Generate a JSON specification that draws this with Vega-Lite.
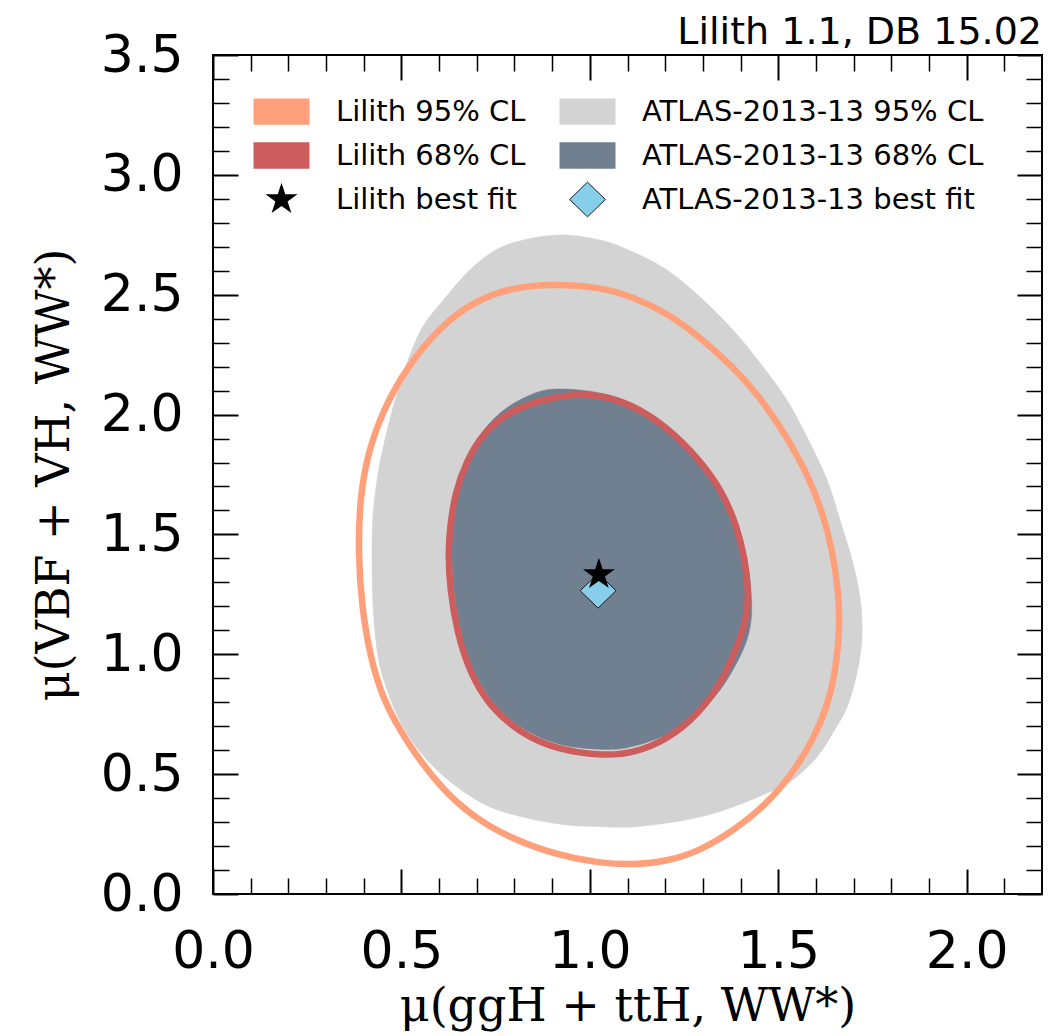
{
  "$schema": "https://vega.github.io/schema/vega-lite/v6.json",
  "autosize": {"type": "none"},
  "width": 829,
  "height": 839,
  "padding": {"left": 213, "top": 55, "right": 11, "bottom": 142},
  "background": "white",
  "title": {"text": "Lilith 1.1, DB 15.02", "anchor": "end", "frame": "group", "font": "DejaVu Sans", "fontSize": 38, "fontWeight": "normal", "baseline": "alphabetic", "offset": -53, "color": "black"},
  "config": {
    "view": {"stroke": "black", "strokeWidth": 2},
    "axis": {"grid": false, "domain": false, "tickColor": "black", "labelColor": "black", "titleColor": "black", "labelFlush": false, "labelOverlap": false}
  },
  "datasets": {
    "gray": [
      {"i":1,"x":0.913,"y":2.749},{"i":2,"x":1.027,"y":2.728},{"i":3,"x":1.115,"y":2.678},{"i":4,"x":1.205,"y":2.603},
      {"i":5,"x":1.292,"y":2.491},{"i":6,"x":1.380,"y":2.353},{"i":7,"x":1.452,"y":2.215},{"i":8,"x":1.523,"y":2.061},
      {"i":9,"x":1.576,"y":1.907},{"i":10,"x":1.630,"y":1.727},{"i":11,"x":1.664,"y":1.560},{"i":12,"x":1.691,"y":1.423},
      {"i":13,"x":1.709,"y":1.310},{"i":14,"x":1.720,"y":1.197},{"i":15,"x":1.722,"y":1.060},{"i":16,"x":1.709,"y":0.922},
      {"i":17,"x":1.683,"y":0.780},{"i":18,"x":1.645,"y":0.672},{"i":19,"x":1.603,"y":0.572},{"i":20,"x":1.539,"y":0.476},
      {"i":21,"x":1.470,"y":0.421},{"i":22,"x":1.380,"y":0.363},{"i":23,"x":1.292,"y":0.321},{"i":24,"x":1.205,"y":0.296},
      {"i":25,"x":1.115,"y":0.280},{"i":26,"x":1.046,"y":0.280},{"i":27,"x":0.939,"y":0.288},{"i":28,"x":0.833,"y":0.317},
      {"i":29,"x":0.735,"y":0.363},{"i":30,"x":0.648,"y":0.446},{"i":31,"x":0.568,"y":0.559},{"i":32,"x":0.504,"y":0.697},
      {"i":33,"x":0.462,"y":0.851},{"i":34,"x":0.438,"y":0.989},{"i":35,"x":0.425,"y":1.197},{"i":36,"x":0.422,"y":1.423},
      {"i":37,"x":0.425,"y":1.589},{"i":38,"x":0.438,"y":1.756},{"i":39,"x":0.456,"y":1.894},{"i":40,"x":0.478,"y":2.032},
      {"i":41,"x":0.502,"y":2.157},{"i":42,"x":0.531,"y":2.282},{"i":43,"x":0.560,"y":2.375},{"i":44,"x":0.608,"y":2.472},
      {"i":45,"x":0.690,"y":2.616},{"i":46,"x":0.780,"y":2.708}
    ],
    "slate": [
      {"i":1,"x":0.921,"y":2.107},{"i":2,"x":1.027,"y":2.090},{"i":3,"x":1.115,"y":2.044},{"i":4,"x":1.205,"y":1.952},
      {"i":5,"x":1.292,"y":1.815},{"i":6,"x":1.354,"y":1.673},{"i":7,"x":1.393,"y":1.531},{"i":8,"x":1.417,"y":1.393},
      {"i":9,"x":1.428,"y":1.260},{"i":10,"x":1.428,"y":1.143},{"i":11,"x":1.412,"y":1.039},{"i":12,"x":1.372,"y":0.914},
      {"i":13,"x":1.324,"y":0.809},{"i":14,"x":1.266,"y":0.726},{"i":15,"x":1.200,"y":0.662},{"i":16,"x":1.115,"y":0.616},
      {"i":17,"x":1.040,"y":0.603},{"i":18,"x":0.921,"y":0.624},{"i":19,"x":0.823,"y":0.690},{"i":20,"x":0.746,"y":0.795},
      {"i":21,"x":0.693,"y":0.930},{"i":22,"x":0.658,"y":1.093},{"i":23,"x":0.640,"y":1.268},{"i":24,"x":0.634,"y":1.423},
      {"i":25,"x":0.637,"y":1.531},{"i":26,"x":0.648,"y":1.673},{"i":27,"x":0.677,"y":1.819},{"i":28,"x":0.719,"y":1.936},
      {"i":29,"x":0.780,"y":2.028},{"i":30,"x":0.855,"y":2.090}
    ],
    "orange": [
      {"i":1,"x":0.902,"y":2.545},{"i":2,"x":1.027,"y":2.532},{"i":3,"x":1.115,"y":2.491},{"i":4,"x":1.205,"y":2.424},
      {"i":5,"x":1.292,"y":2.324},{"i":6,"x":1.380,"y":2.199},{"i":7,"x":1.452,"y":2.073},{"i":8,"x":1.523,"y":1.907},
      {"i":9,"x":1.576,"y":1.756},{"i":10,"x":1.619,"y":1.589},{"i":11,"x":1.645,"y":1.423},{"i":12,"x":1.659,"y":1.268},
      {"i":13,"x":1.663,"y":1.143},{"i":14,"x":1.659,"y":1.039},{"i":15,"x":1.651,"y":0.922},{"i":16,"x":1.630,"y":0.780},
      {"i":17,"x":1.592,"y":0.642},{"i":18,"x":1.539,"y":0.505},{"i":19,"x":1.470,"y":0.375},{"i":20,"x":1.380,"y":0.262},
      {"i":21,"x":1.292,"y":0.180},{"i":22,"x":1.205,"y":0.136},{"i":23,"x":1.115,"y":0.121},{"i":24,"x":1.020,"y":0.130},
      {"i":25,"x":0.913,"y":0.163},{"i":26,"x":0.796,"y":0.228},{"i":27,"x":0.690,"y":0.321},{"i":28,"x":0.602,"y":0.446},
      {"i":29,"x":0.515,"y":0.630},{"i":30,"x":0.451,"y":0.809},{"i":31,"x":0.417,"y":0.989},{"i":32,"x":0.395,"y":1.197},
      {"i":33,"x":0.385,"y":1.423},{"i":34,"x":0.390,"y":1.656},{"i":35,"x":0.411,"y":1.840},{"i":36,"x":0.451,"y":2.019},
      {"i":37,"x":0.515,"y":2.199},{"i":38,"x":0.602,"y":2.365},{"i":39,"x":0.690,"y":2.470},{"i":40,"x":0.790,"y":2.530}
    ],
    "red": [
      {"i":1,"x":0.955,"y":2.086},{"i":2,"x":1.027,"y":2.082},{"i":3,"x":1.115,"y":2.040},{"i":4,"x":1.205,"y":1.948},
      {"i":5,"x":1.292,"y":1.811},{"i":6,"x":1.354,"y":1.673},{"i":7,"x":1.391,"y":1.531},{"i":8,"x":1.412,"y":1.393},
      {"i":9,"x":1.421,"y":1.268},{"i":10,"x":1.418,"y":1.170},{"i":11,"x":1.399,"y":1.060},{"i":12,"x":1.354,"y":0.893},
      {"i":13,"x":1.292,"y":0.755},{"i":14,"x":1.205,"y":0.642},{"i":15,"x":1.115,"y":0.588},{"i":16,"x":1.040,"y":0.576},
      {"i":17,"x":0.913,"y":0.601},{"i":18,"x":0.815,"y":0.672},{"i":19,"x":0.735,"y":0.780},{"i":20,"x":0.682,"y":0.922},
      {"i":21,"x":0.648,"y":1.089},{"i":22,"x":0.629,"y":1.268},{"i":23,"x":0.624,"y":1.423},{"i":24,"x":0.629,"y":1.531},
      {"i":25,"x":0.642,"y":1.673},{"i":26,"x":0.674,"y":1.811},{"i":27,"x":0.717,"y":1.923},{"i":28,"x":0.780,"y":2.007},
      {"i":29,"x":0.868,"y":2.061}
    ],
    "points": [
      {"series":"ATLAS-2013-13 best fit","x":1.022,"y":1.265},
      {"series":"Lilith best fit","x":1.024,"y":1.333}
    ]
  },
  "resolve": {"axis": {"x": "independent", "y": "independent"}},
  "layer": [
    {
      "data": {"name": "gray"},
      "mark": {"type": "line", "interpolate": "cardinal-closed", "fill": "#D3D3D3", "stroke": "#D3D3D3", "strokeWidth": 0.5},
      "encoding": {
        "order": {"field": "i", "type": "quantitative"},
        "x": {"field": "x", "type": "quantitative", "scale": {"domain": [0, 2.2], "nice": false, "zero": false},
          "axis": {"orient": "bottom", "values": [0, 0.5, 1, 1.5, 2], "format": ".1f", "tickSize": -25, "tickWidth": 2,
            "labelFont": "DejaVu Sans", "labelFontSize": 52, "labelPadding": 57,
            "title": "μ(ggH + ttH, WW*)", "titleFont": "DejaVu Serif", "titleFontSize": 46, "titleFontWeight": "normal",
            "titleBaseline": "alphabetic", "titleX": 414.5, "titleY": 126}},
        "y": {"field": "y", "type": "quantitative", "scale": {"domain": [0, 3.5], "nice": false, "zero": false},
          "axis": {"orient": "left", "values": [0, 0.5, 1, 1.5, 2, 2.5, 3, 3.5], "format": ".1f", "tickSize": -25, "tickWidth": 2,
            "labelFont": "DejaVu Sans", "labelFontSize": 52, "labelPadding": 55,
            "title": "μ(VBF + VH, WW*)", "titleFont": "DejaVu Serif", "titleFontSize": 46, "titleFontWeight": "normal",
            "titleBaseline": "alphabetic", "titleAngle": -90, "titleX": -145, "titleY": 419.5}}
      }
    },
    {
      "data": {"name": "slate"},
      "mark": {"type": "line", "interpolate": "cardinal-closed", "fill": "#708090", "stroke": "#708090", "strokeWidth": 0.5},
      "encoding": {
        "order": {"field": "i", "type": "quantitative"},
        "x": {"field": "x", "type": "quantitative", "scale": {"domain": [0, 2.2], "nice": false, "zero": false},
          "axis": {"orient": "bottom", "values": [0.1,0.2,0.3,0.4,0.6,0.7,0.8,0.9,1.1,1.2,1.3,1.4,1.6,1.7,1.8,1.9,2.1], "tickSize": -16, "tickWidth": 1.5, "labels": false, "title": null}},
        "y": {"field": "y", "type": "quantitative", "scale": {"domain": [0, 3.5], "nice": false, "zero": false},
          "axis": {"orient": "left", "values": [0.1,0.2,0.3,0.4,0.6,0.7,0.8,0.9,1.1,1.2,1.3,1.4,1.6,1.7,1.8,1.9,2.1,2.2,2.3,2.4,2.6,2.7,2.8,2.9,3.1,3.2,3.3,3.4], "tickSize": -16, "tickWidth": 1.5, "labels": false, "title": null}}
      }
    },
    {
      "data": {"name": "orange"},
      "mark": {"type": "line", "interpolate": "basis-closed", "stroke": "#FFA07A", "strokeWidth": 6.5, "strokeJoin": "round"},
      "encoding": {
        "order": {"field": "i", "type": "quantitative"},
        "x": {"field": "x", "type": "quantitative", "scale": {"domain": [0, 2.2], "nice": false, "zero": false},
          "axis": {"orient": "top", "values": [0, 0.5, 1, 1.5, 2], "tickSize": -25, "tickWidth": 2, "labels": false, "title": null}},
        "y": {"field": "y", "type": "quantitative", "scale": {"domain": [0, 3.5], "nice": false, "zero": false},
          "axis": {"orient": "right", "values": [0, 0.5, 1, 1.5, 2, 2.5, 3, 3.5], "tickSize": -25, "tickWidth": 2, "labels": false, "title": null}}
      }
    },
    {
      "data": {"name": "red"},
      "mark": {"type": "line", "interpolate": "basis-closed", "stroke": "#CD5C5C", "strokeWidth": 6.5, "strokeJoin": "round"},
      "encoding": {
        "order": {"field": "i", "type": "quantitative"},
        "x": {"field": "x", "type": "quantitative", "scale": {"domain": [0, 2.2], "nice": false, "zero": false},
          "axis": {"orient": "top", "values": [0.1,0.2,0.3,0.4,0.6,0.7,0.8,0.9,1.1,1.2,1.3,1.4,1.6,1.7,1.8,1.9,2.1], "tickSize": -16, "tickWidth": 1.5, "labels": false, "title": null}},
        "y": {"field": "y", "type": "quantitative", "scale": {"domain": [0, 3.5], "nice": false, "zero": false},
          "axis": {"orient": "right", "values": [0.1,0.2,0.3,0.4,0.6,0.7,0.8,0.9,1.1,1.2,1.3,1.4,1.6,1.7,1.8,1.9,2.1,2.2,2.3,2.4,2.6,2.7,2.8,2.9,3.1,3.2,3.3,3.4], "tickSize": -16, "tickWidth": 1.5, "labels": false, "title": null}}
      }
    },
    {
      "data": {"name": "points"},
      "mark": {"type": "point", "filled": true, "size": 3136, "opacity": 1, "strokeWidth": 1},
      "encoding": {
        "x": {"field": "x", "type": "quantitative", "scale": {"domain": [0, 2.2], "nice": false, "zero": false}, "axis": null},
        "y": {"field": "y", "type": "quantitative", "scale": {"domain": [0, 3.5], "nice": false, "zero": false}, "axis": null},
        "fill": {"field": "series", "type": "nominal",
          "scale": {"domain": ["Lilith 95% CL", "Lilith 68% CL", "Lilith best fit", "ATLAS-2013-13 95% CL", "ATLAS-2013-13 68% CL", "ATLAS-2013-13 best fit"],
                    "range": ["#FFA07A", "#CD5C5C", "#000000", "#D3D3D3", "#708090", "#87CEEB"]},
          "legend": {"orient": "none", "legendX": 40, "legendY": 28, "columns": 2, "title": null, "padding": 0,
            "labelFont": "DejaVu Sans", "labelFontSize": 29, "labelColor": "black", "labelOffset": 26, "labelLimit": 0,
            "symbolSize": 3136, "symbolStrokeWidth": 1, "rowPadding": -1, "columnPadding": 31}},
        "shape": {"field": "series", "type": "nominal",
          "scale": {"domain": ["Lilith 95% CL", "Lilith 68% CL", "Lilith best fit", "ATLAS-2013-13 95% CL", "ATLAS-2013-13 68% CL", "ATLAS-2013-13 best fit"],
                    "range": ["M-1,-0.47H1V0.47H-1Z", "M-1,-0.47H1V0.47H-1Z",
                              "M0,-0.6L0.1347,-0.1854L0.5706,-0.1854L0.218,0.0708L0.3527,0.4854L0,0.2292L-0.3527,0.4854L-0.218,0.0708L-0.5706,-0.1854L-0.1347,-0.1854Z",
                              "M-1,-0.47H1V0.47H-1Z", "M-1,-0.47H1V0.47H-1Z",
                              "M0,-0.62L0.64,0L0,0.62L-0.64,0Z"]},
          "legend": {"orient": "none", "legendX": 40, "legendY": 28, "columns": 2, "title": null, "padding": 0,
            "labelFont": "DejaVu Sans", "labelFontSize": 29, "labelColor": "black", "labelOffset": 26, "labelLimit": 0,
            "symbolSize": 3136, "symbolStrokeWidth": 1, "rowPadding": -1, "columnPadding": 31}},
        "stroke": {"field": "series", "type": "nominal",
          "scale": {"domain": ["Lilith 95% CL", "Lilith 68% CL", "Lilith best fit", "ATLAS-2013-13 95% CL", "ATLAS-2013-13 68% CL", "ATLAS-2013-13 best fit"],
                    "range": ["transparent", "transparent", "transparent", "transparent", "transparent", "#1a1a1a"]},
          "legend": {"orient": "none", "legendX": 40, "legendY": 28, "columns": 2, "title": null, "padding": 0,
            "labelFont": "DejaVu Sans", "labelFontSize": 29, "labelColor": "black", "labelOffset": 26, "labelLimit": 0,
            "symbolSize": 3136, "symbolStrokeWidth": 1, "rowPadding": -1, "columnPadding": 31}}
      }
    }
  ]
}
